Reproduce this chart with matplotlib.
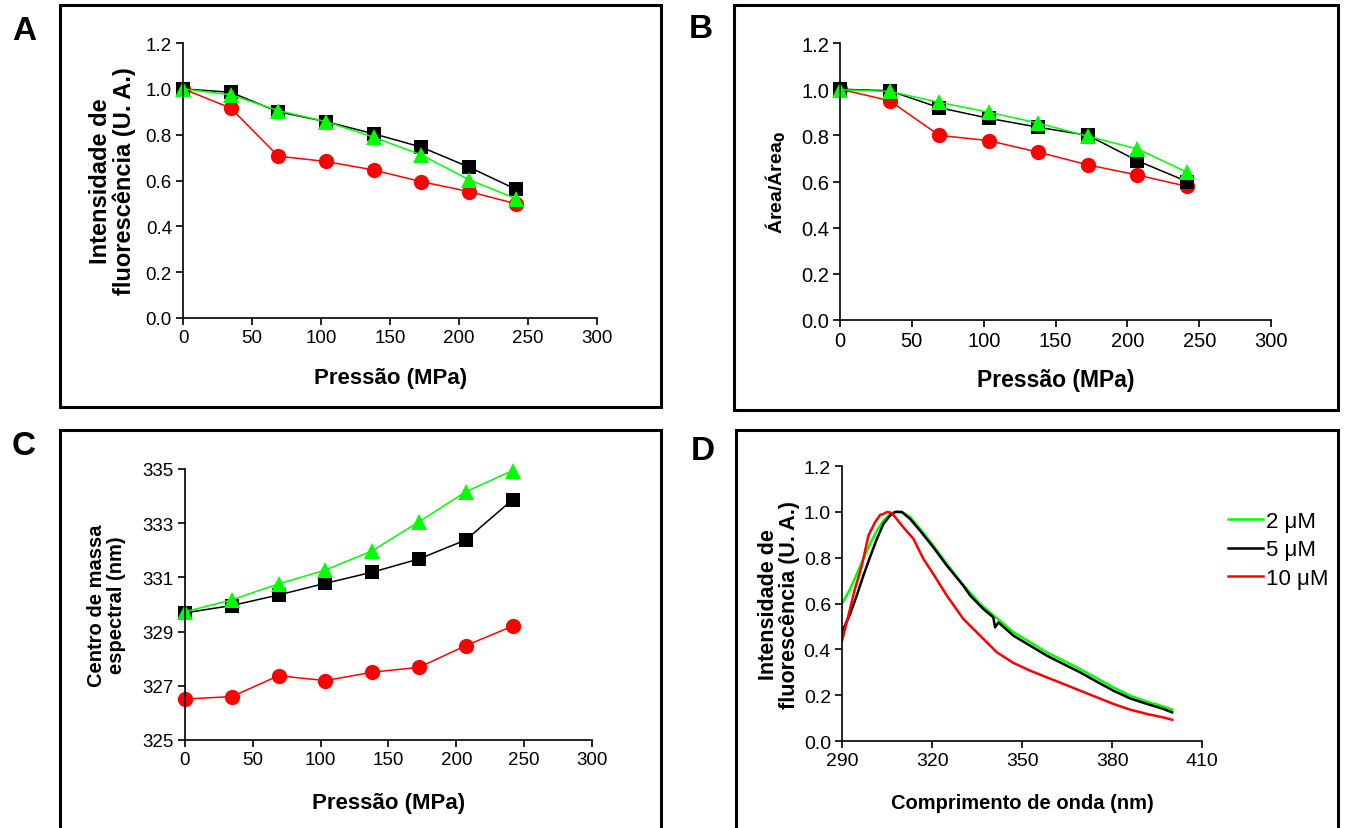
import matplotlib.pyplot as plt
from matplotlib.patches import Rectangle

plt.rcParams['font.family'] = ['Liberation Sans', 'DejaVu Sans']

# Pressure steps (MPa)
pressao = [0, 34.5, 69, 103.5, 138, 172.5, 207, 241.5]

# Panel A: fluorescence intensity
int_2uM = [1.0, 0.974, 0.905, 0.857, 0.789, 0.712, 0.604, 0.52]
int_5uM = [1.0, 0.985, 0.90, 0.857, 0.804, 0.746, 0.659, 0.561]
int_10uM = [1.0, 0.916, 0.706, 0.683, 0.646, 0.595, 0.552, 0.498]

# Panel B: area / area0
area_2uM = [0.998, 0.99, 0.943, 0.90, 0.853, 0.796, 0.741, 0.64]
area_5uM = [1.0, 0.993, 0.92, 0.874, 0.835, 0.80, 0.69, 0.60]
area_10uM = [1.0, 0.95, 0.80, 0.777, 0.727, 0.672, 0.628, 0.579]

# Panel C: spectral centre of mass (nm)
cm_2uM = [329.73, 330.17, 330.76, 331.27, 331.98, 333.05, 334.16, 334.94]
cm_5uM = [329.69, 329.96, 330.35, 330.78, 331.19, 331.68, 332.38, 333.87]
cm_10uM = [326.51, 326.60, 327.37, 327.19, 327.50, 327.68, 328.48, 329.20]

# Panel D: emission spectra
wl_2uM = [290, 292.7, 294.9, 297.1, 299.3, 301.6, 303.8, 306, 308.2, 310.4, 312.7,
          316, 320.4, 324.9, 330.4, 336, 341.6, 347.1, 352.7, 358.2, 363.8, 369.3,
          374.9, 380.4, 386, 391.6, 397.1, 400]
sp_2uM = [0.60, 0.664, 0.729, 0.795, 0.860, 0.918, 0.962, 0.991, 1.0, 0.996, 0.977,
          0.926, 0.853, 0.773, 0.681, 0.598, 0.536, 0.475, 0.431, 0.387, 0.351, 0.314,
          0.274, 0.234, 0.198, 0.172, 0.151, 0.137]
wl_5uM = [290, 292.7, 294.9, 297.1, 299.3, 301.6, 303.8, 306, 307.7, 309.9, 312.7,
          316, 320.4, 324.9, 330.4, 332.7, 337.1, 340.4, 341, 342.1, 347.1, 352.7,
          358.2, 363.8, 369.3, 374.9, 380.4, 386, 391.6, 397.1, 400]
sp_5uM = [0.475, 0.555, 0.635, 0.722, 0.802, 0.882, 0.948, 0.984, 1.0, 1.0, 0.969,
          0.918, 0.846, 0.766, 0.678, 0.635, 0.576, 0.540, 0.496, 0.518, 0.460, 0.416,
          0.373, 0.336, 0.300, 0.259, 0.220, 0.186, 0.162, 0.140, 0.125]
wl_10uM = [290, 292.1, 294.3, 296.6, 298.8, 301, 302.7, 303.8, 305.1, 306.6, 308.2,
           310.4, 313.8, 317.1, 320.4, 324.9, 330.4, 336, 341.6, 347.1, 352.7, 358.2,
           363.8, 369.3, 374.9, 380.4, 386, 391.6, 397.1, 400]
sp_10uM = [0.438, 0.547, 0.664, 0.766, 0.897, 0.955, 0.987, 0.991, 1.0, 0.995, 0.969,
           0.933, 0.882, 0.795, 0.729, 0.635, 0.533, 0.460, 0.387, 0.341, 0.307, 0.278,
           0.249, 0.220, 0.191, 0.162, 0.137, 0.118, 0.103, 0.093]

legend_labels = ['2 \u03bcM', '5 \u03bcM', '10 \u03bcM']
frac_ticks = [0.0, 0.2, 0.4, 0.6, 0.8, 1.0, 1.2]
frac_labels = ['0.0', '0.2', '0.4', '0.6', '0.8', '1.0', '1.2']

green = '#00ff00'
black = '#000000'
red = '#ff0000'

fig = plt.figure(figsize=(13.46, 8.29), dpi=100)

# Panel frames
for x0, y0, w, h in [(0.0446, 0.5078, 0.4465, 0.4849), (0.5453, 0.5042, 0.4487, 0.4885),
                     (0.0446, -0.02, 0.4465, 0.5001), (0.5468, -0.02, 0.4472, 0.5001)]:
    fig.patches.append(Rectangle((x0, y0), w, h, transform=fig.transFigure,
                                 fill=False, edgecolor='black', linewidth=2.2))

# Panel letters
for letter, x, y in [('A', 24 / 1346, 31 / 829), ('B', 701 / 1346, 30 / 829),
                     ('C', 24 / 1346, 447 / 829), ('D', 703 / 1346, 452 / 829)]:
    fig.text(x, 1 - y, letter, fontsize=24, fontweight='bold', ha='center', va='center')

axA = fig.add_axes([0.1360, 0.6152, 0.3076, 0.3317])
axB = fig.add_axes([0.6241, 0.6128, 0.3202, 0.3341])
axC = fig.add_axes([0.1374, 0.1062, 0.3024, 0.3269])
axD = fig.add_axes([0.6256, 0.1049, 0.2675, 0.3317])


def style(ax, size):
    for s in ['top', 'right']:
        ax.spines[s].set_visible(False)
    for s in ['left', 'bottom']:
        ax.spines[s].set_linewidth(1.2)
    ax.tick_params(direction='out', length=5, width=1.2, labelsize=size, pad=3)


def scatter_panel(ax, y2, y5, y10, tsize, lsize, pad):
    kw = dict(linewidth=1.1, clip_on=False, markeredgewidth=0)
    ax.plot(pressao, y10, '-o', color=red, markersize=11, **kw)
    ax.plot(pressao, y5, '-s', color=black, markersize=10, **kw)
    ax.plot(pressao, y2, '-^', color=green, markersize=11, **kw)
    ax.set_xlim(0, 300)
    ax.set_xticks([0, 50, 100, 150, 200, 250, 300])
    ax.set_xlabel('Pressão (MPa)', fontsize=lsize, fontweight='bold', labelpad=pad)
    style(ax, tsize)


scatter_panel(axA, int_2uM, int_5uM, int_10uM, 13.5, 16, 15)
axA.set_ylim(0, 1.2)
axA.set_yticks(frac_ticks)
axA.set_yticklabels(frac_labels)
axA.set_ylabel('Intensidade de\nfluorescência (U. A.)', fontsize=17,
               fontweight='bold', labelpad=7, linespacing=1.0)

scatter_panel(axB, area_2uM, area_5uM, area_10uM, 14.5, 16.5, 13)
axB.set_ylim(0, 1.2)
axB.set_yticks(frac_ticks)
axB.set_yticklabels(frac_labels)
axB.set_ylabel(r'Área/Área$_\mathbf{0}$', fontsize=14, fontweight='bold', labelpad=9)

scatter_panel(axC, cm_2uM, cm_5uM, cm_10uM, 13.5, 16, 17)
axC.set_ylim(325, 335)
axC.set_yticks([325, 327, 329, 331, 333, 335])
axC.set_ylabel('Centro de massa\nespectral (nm)', fontsize=14.5,
               fontweight='bold', labelpad=12, linespacing=1.05)

axD.plot(wl_2uM, sp_2uM, color=green, linewidth=1.8, label=legend_labels[0])
axD.plot(wl_5uM, sp_5uM, color=black, linewidth=1.8, label=legend_labels[1])
axD.plot(wl_10uM, sp_10uM, color=red, linewidth=1.8, label=legend_labels[2])
axD.set_xlim(290, 410)
axD.set_xticks([290, 320, 350, 380, 410])
axD.set_ylim(0, 1.2)
axD.set_yticks(frac_ticks)
axD.set_yticklabels(frac_labels)
axD.set_xlabel('Comprimento de onda (nm)', fontsize=14.5, fontweight='bold', labelpad=17)
axD.set_ylabel('Intensidade de\nfluorescência (U. A.)', fontsize=15.5,
               fontweight='bold', labelpad=3, linespacing=1.0)
style(axD, 14)
axD.legend(loc='center left', bbox_to_anchor=(1.046, 0.695), frameon=False,
           fontsize=16, handlelength=1.6, handletextpad=0.15, labelspacing=0.35,
           borderaxespad=0)

fig.savefig('out.png', dpi=100)
